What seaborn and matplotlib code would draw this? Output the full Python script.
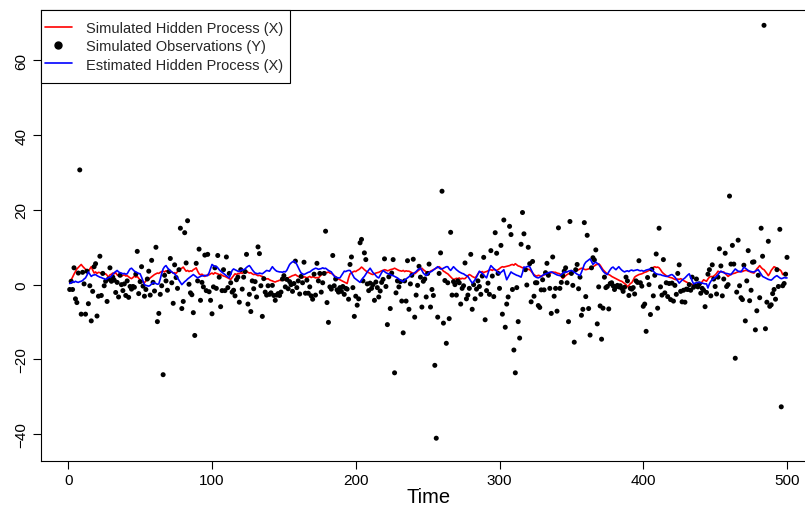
import matplotlib
matplotlib.use("Agg")
import matplotlib.pyplot as plt
from matplotlib.lines import Line2D
from matplotlib.patches import Rectangle
import seaborn as sns
import numpy as np
import pandas as pd

# ---------------- data ----------------
time = list(range(1, 501))

obs_y = [
    -1.3, 0.9, -1.3, 4.5, -3.8, -4.8, 3.1, 30.7, -7.9, 3.3,
    0.2, -7.9, 3.6, -5.1, -0.3, -9.7, -1.8, 4.8, 5.6, -8.4,
    -3.1, 7.6, -2.9, 3.0, -0.3, 0.9, -4.5, 1.5, 4.5, 0.9,
    2.0, 1.2, -2.1, 0.6, -3.3, 2.5, 0.0, -1.6, 0.2, -2.9,
    1.0, -3.4, -0.5, -1.2, -0.5, -0.7, 2.8, 8.9, -2.4, 0.8,
    4.8, -0.4, -3.1, -1.3, 1.5, 3.6, -2.8, 6.5, 0.6, -1.7,
    10.0, -9.9, -7.7, -2.6, -0.3, -24.1, 2.5, 1.0, -1.5, 3.5,
    7.0, 0.5, -5.0, 5.3, 1.9, -1.0, 4.0, 15.1, -6.4, -4.5,
    13.9, 5.8, 17.1, 0.1, -2.2, -2.7, -7.5, -13.6, 5.7, 1.0,
    9.5, -4.2, 0.6, -0.6, 7.9, -1.6, 8.1, -1.9, -4.2, -7.8,
    -0.6, 4.5, -1.0, 7.8, 2.0, -5.9, -1.6, 4.0, -1.6, 7.4,
    -0.8, 3.0, 0.5, -2.0, -1.5, -3.0, 1.3, 2.0, -4.7, 4.0,
    -1.2, 2.0, 3.5, 8.1, -5.2, -2.6, -7.2, 1.0, -1.1, 0.8,
    -3.3, 10.1, 8.3, -0.3, -8.5, 1.6, -2.0, -2.8, -0.3, -2.6,
    -2.2, -0.2, -2.9, -4.2, -2.8, -2.4, -2.9, -2.0, 1.5, 2.4,
    -0.6, 1.4, -1.1, 0.8, 0.0, -1.8, 0.3, 6.3, -0.8, 1.0,
    -2.5, 2.2, 0.5, 6.0, -2.3, 1.2, -2.3, -0.6, -3.0, -3.9,
    2.8, -2.8, 5.7, 1.0, 3.0, -2.0, 0.5, 3.0, 14.3, -4.8,
    -10.1, -0.6, -1.2, 7.8, -0.3, 1.5, -1.4, -2.0, -0.8, -1.8,
    -0.5, -2.6, -1.0, -1.2, -3.9, 5.4, 7.4, -0.8, -8.5, -3.1,
    -5.5, -3.8, 11.2, 12.1, 1.0, 8.5, 6.7, 0.2, -1.6, 0.4,
    -1.0, 0.0, -4.2, 0.7, -0.8, -3.3, -1.7, 0.6, 1.4, 6.9,
    -0.5, -10.7, 2.1, -6.4, 3.1, 6.7, -23.6, -2.2, 1.0, -0.6,
    0.8, -4.4, -12.9, 1.0, -4.4, 6.4, -6.6, 0.2, 2.5, 6.8,
    -8.7, -2.8, -0.2, 4.9, 2.0, -6.0, 0.9, 1.5, -3.3, 3.0,
    5.5, -6.0, -1.3, -2.9, -21.6, -41.1, -8.7, 3.0, 8.5, 25.0,
    -10.3, 1.1, -15.7, 0.5, -9.1, 14.0, -2.8, 0.8, 0.0, -2.8,
    1.0, 0.5, -5.2, -1.0, -0.3, 5.8, -3.8, -2.8, -1.0, 8.1,
    -6.6, 0.0, -3.8, -1.2, 1.0, -0.5, -2.6, 2.3, 7.3, -9.4,
    -1.6, 0.4, -2.6, 9.1, 2.3, -3.2, 13.9, 8.4, 3.0, -1.0,
    10.5, -7.9, 17.3, -11.4, -5.2, -3.3, 15.6, 13.4, -1.3, -17.5,
    -23.6, -0.8, -9.9, -14.3, 10.8, 19.3, 13.6, 4.0, -0.1, 10.0,
    5.6, -4.6, 6.2, -3.1, 0.5, 0.5, -5.6, -6.1, -1.4, 1.3,
    -1.4, 3.2, 5.7, 2.5, -1.0, -7.7, 7.4, -3.1, -1.0, -7.1,
    15.2, -1.0, 0.6, 2.4, 3.6, 4.5, 0.5, -9.9, 16.9, 3.0,
    -0.2, -15.4, 4.0, 5.4, -1.1, 2.0, -8.2, -6.6, 16.6, -3.2,
    13.2, -6.4, -13.5, 4.5, 7.2, 6.6, 9.3, -10.5, -0.6, -5.7,
    -14.6, -6.3, 2.0, -0.8, -0.5, -6.5, 0.3, 0.5, -0.3, -1.3,
    -0.5, -0.2, -0.6, -0.3, -1.0, -1.8, -0.7, 2.0, 1.0, -2.9,
    -1.0, -1.2, -0.8, -2.5, 1.0, 0.6, 6.4, 0.5, -0.4, -5.8,
    -5.2, -12.5, 1.9, 0.0, -8.0, 4.1, -3.0, 2.5, 8.2, -6.3,
    15.1, -0.6, -2.8, 6.7, -2.2, 0.5, -3.2, 0.3, -4.0, 0.4,
    -4.4, -0.2, -2.6, 3.0, 5.3, -1.8, -4.6, -1.5, -4.7, -1.2,
    -1.3, 0.0, -1.5, 2.0, -0.7, -0.2, 1.5, -0.6, 0.2, -2.3,
    -1.0, -1.5, -5.9, -2.1, 2.8, 4.0, -3.0, 5.3, 1.5, -0.5,
    -2.5, 2.0, 9.6, 5.0, -3.0, 1.5, 8.4, -0.5, 0.0, 23.7,
    5.5, 10.5, 5.5, -19.7, -2.0, 11.9, -0.3, -3.5, -4.0, 5.2,
    -9.7, 1.0, 9.1, -4.3, -1.5, 6.0, 6.1, -12.1, -7.0, 2.5,
    -3.5, 15.1, 7.6, 69.4, -11.8, -4.7, 11.6, -5.8, -5.4, -2.4,
    -1.3, -3.9, 4.0, -0.5, 14.8, -32.7, -0.3, 0.3, 2.8, 7.3,
]

hidden_x = [
    0.5, 1.2, 2.0, 2.8, 3.5, 4.2, 4.6, 5.0, 5.4, 4.9,
    4.5, 4.1, 3.8, 3.6, 4.2, 4.8, 3.9, 3.1, 3.4, 3.0,
    3.3, 3.2, 3.0, 3.1, 2.8, 2.9, 2.5, 2.0, 2.6, 2.8,
    3.1, 2.9, 3.2, 2.6, 2.4, 2.7, 2.2, 2.5, 2.6, 2.3,
    2.4, 2.1, 1.8, 1.6, 1.9, 2.3, 2.0, 2.2, 1.7, 1.3,
    0.9, 0.7, 0.5, 1.0, 1.6, 1.4, 1.8, 2.1, 2.4, 2.7,
    2.9, 3.1, 3.0, 3.3, 3.5, 3.6, 3.4, 3.7, 3.5, 3.3,
    3.6, 3.4, 3.1, 3.2, 3.0, 3.5, 3.9, 4.2, 4.4, 4.7,
    4.1, 3.6, 3.8, 3.5, 3.7, 3.6, 4.0, 4.2, 4.5, 3.6,
    2.9, 2.6, 2.8, 2.5, 2.2, 2.4, 2.7, 2.6, 2.9, 3.1,
    2.8, 3.2, 3.0, 2.9, 2.6, 2.8, 2.5, 2.3, 2.2, 2.0,
    1.8, 1.6, 1.4, 1.9, 2.4, 2.9, 2.7, 3.0, 2.9, 3.2,
    3.0, 3.3, 3.5, 3.6, 3.3, 3.1, 3.2, 2.9, 2.7, 2.8,
    2.6, 2.4, 2.5, 2.3, 2.2, 1.9, 1.7, 1.5, 1.6, 1.3,
    1.1, 1.0, 0.8, 0.7, 0.9, 1.0, 1.2, 1.1, 1.3, 1.2,
    1.4, 1.6, 1.8, 2.0, 2.2, 2.4, 2.5, 2.7, 2.4, 2.2,
    2.0, 1.9, 1.8, 2.1, 2.0, 1.8, 2.0, 2.2, 1.9, 2.1,
    2.0, 1.8, 1.9, 1.8, 2.2, 2.6, 2.9, 3.1, 3.3, 3.2,
    3.4, 3.1, 3.0, 2.8, 2.4, 2.1, 1.8, 1.5, 1.3, 1.1,
    0.9, 0.7, 0.5, 0.3, 1.8, 2.9, 3.1, 3.4, 3.6, 3.5,
    3.8, 4.0, 4.3, 4.7, 4.4, 4.0, 3.7, 3.4, 3.2, 3.0,
    2.8, 2.7, 2.9, 3.1, 3.2, 3.3, 3.5, 3.7, 3.8, 4.0,
    3.9, 3.7, 3.8, 4.0, 4.1, 4.2, 4.4, 4.2, 4.0, 3.8,
    3.7, 3.6, 3.8, 3.5, 3.7, 3.6, 3.6, 3.4, 3.2, 3.0,
    2.9, 3.2, 3.6, 3.9, 4.2, 4.4, 4.0, 3.7, 3.4, 3.1,
    3.3, 3.6, 3.8, 4.0, 4.2, 4.4, 4.6, 4.8, 4.5, 4.1,
    3.6, 3.4, 3.1, 2.9, 2.5, 2.1, 1.7, 1.4, 1.5, 1.7,
    1.6, 1.8, 1.5, 1.7, 1.6, 1.6, 2.0, 2.4, 2.7, 2.5,
    2.2, 2.0, 1.8, 2.3, 2.9, 3.4, 3.3, 3.5, 3.2, 3.4,
    3.5, 3.7, 3.9, 4.0, 3.8, 4.1, 3.9, 3.8, 4.0, 4.3,
    4.6, 4.8, 4.7, 4.8, 4.9, 5.0, 5.1, 5.3, 5.4, 5.2,
    5.6, 5.3, 5.0, 4.9, 4.7, 4.5, 4.6, 4.4, 4.2, 4.1,
    4.0, 3.6, 3.1, 2.7, 2.4, 2.3, 2.5, 2.4, 2.2, 2.4,
    2.6, 2.8, 2.9, 3.1, 3.0, 3.2, 3.4, 3.3, 3.3, 3.1,
    3.0, 2.9, 2.3, 1.6, 2.0, 2.4, 2.7, 2.9, 3.1, 3.0,
    3.2, 3.4, 3.6, 3.8, 4.0, 4.2, 4.4, 4.3, 4.1, 4.0,
    4.1, 4.2, 4.4, 4.6, 4.8, 5.0, 5.3, 5.4, 5.6, 5.2,
    4.6, 4.0, 3.6, 3.2, 2.9, 2.7, 2.5, 2.2, 2.0, 1.8,
    1.6, 1.4, 1.2, 1.0, 0.9, 0.6, 0.3, 0.0, -0.6, -0.2,
    0.3, 0.5, 1.2, 2.0, 2.3, 2.5, 2.7, 2.8, 2.9, 3.1,
    3.3, 3.4, 3.6, 3.8, 4.0, 4.3, 4.6, 4.8, 4.6, 4.7,
    4.5, 4.0, 3.4, 3.0, 2.7, 2.4, 2.2, 2.0, 1.9, 1.8,
    1.6, 1.4, 1.3, 1.5, 1.4, 1.6, 1.4, 1.1, 0.9, 0.7,
    0.5, 0.3, 0.2, 0.0, -0.2, -0.4, -0.6, -0.9, -0.5, 0.2,
    0.8, 1.3, 1.1, 0.9, 1.5, 2.0, 2.2, 2.1, 2.3, 2.6,
    3.0, 3.6, 3.4, 3.5, 3.3, 3.4, 3.0, 2.6, 2.2, 2.5,
    2.7, 2.9, 3.0, 3.1, 3.3, 3.4, 3.5, 3.6, 3.5, 3.7,
    3.8, 3.8, 3.6, 3.5, 3.3, 3.2, 3.1, 3.6, 4.2, 4.6,
    5.1, 4.6, 4.2, 4.0, 3.5, 3.0, 2.4, 3.0, 3.8, 4.3,
    4.8, 4.6, 4.3, 4.1, 4.0, 3.6, 2.7, 3.0, 3.2, 3.0,
]

estimated_x = [
    0.3, 0.5, 0.8, 0.6, 0.9, 0.7, 0.6, 0.8, 0.9, 1.1,
    1.5, 1.8, 2.5, 3.4, 2.8, 2.2, 2.5, 2.6, 2.7, 2.4,
    2.2, 2.0, 1.9, 1.7, 1.6, 1.4, 1.6, 1.9, 2.0, 2.2,
    2.8, 3.2, 3.5, 3.8, 3.4, 3.2, 3.1, 2.9, 3.0, 2.8,
    2.9, 3.6, 4.2, 4.4, 4.0, 3.6, 3.4, 3.2, 3.0, 2.9,
    2.0, 1.0, 0.0, -0.2, -0.3, -0.4, -0.2, 0.2, 0.6, 0.4,
    0.3, 0.1, 0.2, 1.5, 3.0, 4.2, 4.8, 5.1, 4.5, 4.1,
    3.7, 3.4, 3.1, 2.9, 2.4, 1.8, 1.2, 0.6, 0.0, 0.4,
    0.8, 1.1, 1.5, 1.8, 2.1, 2.4, 2.7, 2.4, 2.1, 1.8,
    2.0, 2.2, 2.4, 2.3, 2.5, 2.4, 2.4, 3.2, 4.3, 5.4,
    5.1, 4.8, 4.9, 4.5, 4.0, 3.6, 3.3, 3.0, 2.7, 2.4,
    2.1, 1.8, 2.8, 3.8, 4.2, 4.0, 3.8, 3.6, 3.5, 3.8,
    3.9, 4.0, 4.2, 4.6, 4.9, 5.1, 4.6, 4.0, 3.5, 3.1,
    3.0, 2.9, 3.1, 3.0, 2.9, 3.2, 3.5, 3.8, 3.7, 3.6,
    4.2, 4.8, 4.3, 3.9, 3.6, 3.5, 3.4, 3.4, 3.3, 3.5,
    3.4, 3.8, 4.6, 5.4, 5.8, 6.1, 6.3, 6.0, 5.4, 4.6,
    3.8, 3.1, 2.9, 2.7, 2.9, 3.1, 3.3, 3.4, 3.7, 4.0,
    4.2, 4.4, 4.3, 4.1, 4.2, 4.3, 4.5, 4.3, 4.4, 4.1,
    3.8, 3.6, 3.4, 2.8, 2.3, 2.0, 1.9, 1.8, 1.8, 2.4,
    3.0, 3.6, 3.5, 3.7, 3.8, 3.8, 3.2, 2.5, 1.8, 1.5,
    1.2, 0.9, 0.6, 1.2, 1.8, 2.2, 2.8, 3.4, 3.9, 4.4,
    3.8, 3.2, 2.9, 2.4, 2.0, 1.8, 2.5, 3.2, 3.8, 3.5,
    3.2, 3.0, 2.9, 2.7, 2.5, 2.4, 2.2, 2.0, 1.8, 1.5,
    1.2, 1.0, 0.8, 1.2, 1.5, 1.8, 2.1, 2.4, 2.7, 3.0,
    3.2, 3.5, 3.9, 4.2, 4.4, 3.8, 3.1, 2.7, 2.4, 2.8,
    3.2, 3.4, 3.6, 3.9, 4.2, 4.5, 4.8, 4.5, 4.2, 4.2,
    4.4, 4.6, 4.8, 4.8, 4.2, 3.8, 4.3, 4.8, 4.4, 4.0,
    3.7, 3.4, 3.2, 3.0, 2.9, 2.6, 2.4, 2.2, 1.6, 1.0,
    0.4, 0.8, 1.3, 2.0, 2.8, 3.6, 3.3, 3.0, 2.6, 2.2,
    1.8, 3.0, 4.2, 5.1, 4.7, 4.3, 4.0, 3.6, 3.2, 2.9,
    3.3, 3.6, 4.0, 2.6, 1.3, 2.0, 2.7, 3.4, 3.1, 2.9,
    2.7, 2.5, 2.4, 2.2, 2.0, 3.2, 4.7, 4.6, 4.8, 4.9,
    4.8, 4.0, 3.2, 2.4, 2.1, 1.9, 1.8, 2.0, 2.2, 2.5,
    2.7, 2.9, 3.0, 3.2, 3.3, 3.4, 3.2, 3.0, 2.8, 2.6,
    2.5, 2.4, 2.7, 3.0, 3.4, 3.3, 3.4, 3.6, 3.7, 3.8,
    3.6, 3.3, 3.1, 2.8, 2.6, 2.4, 3.3, 4.3, 5.4, 6.0,
    6.3, 6.6, 6.9, 6.2, 5.4, 5.8, 6.0, 5.7, 5.4, 4.8,
    4.2, 3.6, 3.2, 2.9, 2.7, 3.4, 4.0, 4.5, 4.7, 4.3,
    4.0, 4.4, 4.8, 4.3, 3.9, 3.6, 3.4, 3.6, 3.7, 3.5,
    3.8, 3.9, 3.7, 3.8, 3.9, 4.0, 3.8, 3.7, 3.8, 3.6,
    3.7, 3.9, 4.0, 4.1, 4.2, 4.0, 3.6, 3.2, 2.9, 2.8,
    2.7, 2.7, 2.5, 2.4, 2.3, 2.2, 2.2, 2.4, 2.6, 2.7,
    2.4, 2.0, 1.5, 1.0, 0.4, 0.8, 1.2, 1.5, 1.8, 2.2,
    2.6, 2.9, 2.0, 1.0, 0.2, 0.4, 0.5, 0.6, 0.6, 0.5,
    0.4, 0.3, 0.2, 0.2, -0.9, 0.2, 0.9, 1.3, 1.6, 1.9,
    2.2, 2.7, 3.2, 3.6, 3.4, 3.2, 3.0, 3.0, 2.9, 2.8,
    2.7, 3.2, 3.7, 4.2, 3.9, 3.6, 3.5, 3.4, 4.0, 4.7,
    4.4, 4.1, 3.8, 3.6, 3.5, 3.4, 3.4, 3.6, 3.8, 4.0,
    3.4, 2.8, 2.2, 2.0, 1.8, 1.6, 1.4, 1.3, 1.2, 1.5,
    1.9, 2.2, 2.4, 2.1, 1.8, 1.6, 1.7, 1.9, 1.8, 1.8,
]

x_ticks = [0, 100, 200, 300, 400, 500]
y_ticks = [-40, -20, 0, 20, 40, 60]
legend_labels = ["Simulated Hidden Process (X)",
                 "Simulated Observations (Y)",
                 "Estimated Hidden Process (X)"]
x_label = "Time"

df = pd.DataFrame({"Time": time, "Y": obs_y, "X": hidden_x, "Xhat": estimated_x})

# ---------------- style ----------------
sns.set_theme(style="white")
plt.rcParams["font.family"] = ["Liberation Sans", "DejaVu Sans"]

fig = plt.figure(figsize=(8.05, 5.10), dpi=100)
W, H = 805.0, 510.0
left_px, right_px, top_px, bottom_px = 41.0, 815.7, 11.0, 462.0
ax_w_px = right_px - left_px
ax = fig.add_axes([left_px / W, 1 - bottom_px / H,
                   ax_w_px / W, (bottom_px - top_px) / H])

sns.lineplot(data=df, x="Time", y="X", ax=ax, color="#FF0000", linewidth=1.2,
             estimator=None, sort=False)
sns.scatterplot(data=df, x="Time", y="Y", ax=ax, color="black", s=13,
                linewidth=0, edgecolor="none", zorder=3)
sns.lineplot(data=df, x="Time", y="Xhat", ax=ax, color="#0000FF", linewidth=1.2,
             estimator=None, sort=False, zorder=4)

ax.set_xlim(-18.96, 519.96)
ax.set_ylim(-47.2, 73.5)
ax.set_xticks(x_ticks)
ax.set_yticks(y_ticks)
ax.set_xticklabels([str(v) for v in x_ticks])
ax.set_yticklabels(["\u2212" + str(abs(v)) if v < 0 else str(v) for v in y_ticks],
                   rotation=90, va="center")
ax.tick_params(axis="both", which="major", direction="out", length=5.5, width=0.8,
               color="black", labelsize=11, labelcolor="black", pad=3.5,
               bottom=True, left=True)
ax.set_xlabel(x_label, fontsize=14.5, color="black", labelpad=0)
ax.set_ylabel("")
for sp in ax.spines.values():
    sp.set_color("black")
    sp.set_linewidth(0.8)

# legend: content placed like R's legend(), framed by a box from the axes corner
fs_pt = 10.5
fs_px = fs_pt * 100 / 72.0
bpad = 0.78                      # vertical padding (in font sizes)
shift_px = bpad * fs_px - 4.0    # so the handles start ~4 px right of the axis
handles = [
    Line2D([], [], color="#FF0000", linewidth=1.2),
    Line2D([], [], color="black", marker="o", linestyle="None", markersize=5),
    Line2D([], [], color="#0000FF", linewidth=1.2),
]
leg = ax.legend(handles, legend_labels, loc="upper left",
                bbox_to_anchor=(-shift_px / ax_w_px, 1),
                borderaxespad=0, fontsize=fs_pt, frameon=False,
                handlelength=1.85, handletextpad=0.95, labelspacing=0.28,
                borderpad=bpad)
leg.set_zorder(8)

fig.canvas.draw()
ext = leg.get_window_extent()
box_right = ext.x1 - bpad * fs_px + 6.5
box_bottom = ext.y0
rect = Rectangle((left_px / W, box_bottom / H),
                 (box_right - left_px) / W, (H - top_px - box_bottom) / H,
                 transform=fig.transFigure, facecolor="white", edgecolor="black",
                 linewidth=0.8, zorder=6, clip_on=False)
ax.add_patch(rect)

fig.savefig("out.png", dpi=100)
